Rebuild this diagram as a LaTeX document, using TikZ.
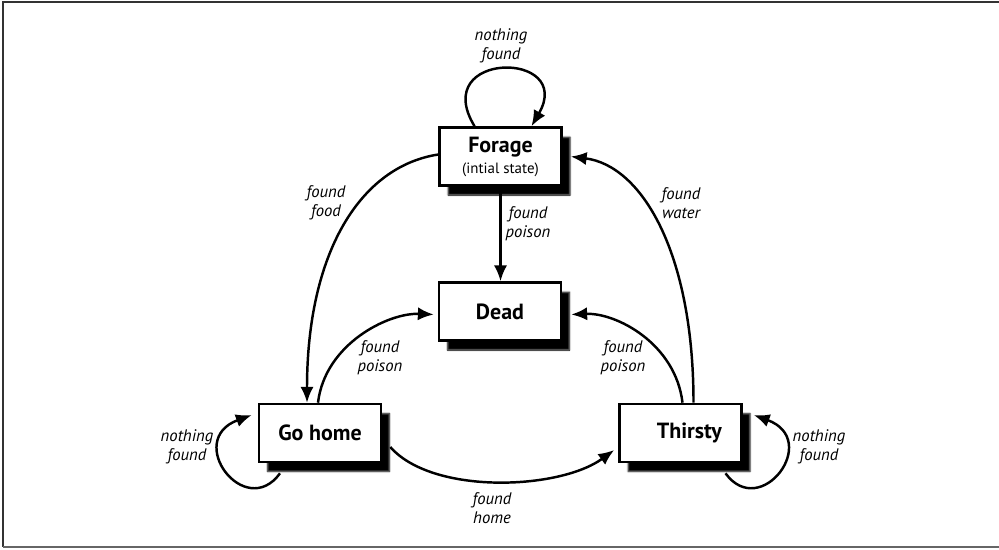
\documentclass[tikz,border=0pt]{standalone}
\usepackage{fontspec}
\setmainfont{PT Sans}
\usetikzlibrary{arrows.meta,shadows,shadows.blur,calc}
\begin{document}
\begin{tikzpicture}[x=0.02cm,y=-0.02cm,
  state/.style={draw=black, line width=1.5pt, fill=white,
    minimum width=2.44cm, minimum height=1.16cm, inner sep=0pt,
    font=\bfseries\fontsize{12.5}{14}\selectfont, align=center,
    blur shadow={shadow xshift=0.17cm, shadow yshift=-0.19cm,
      shadow blur radius=0.03cm, shadow opacity=100}},
  trans/.style={line width=1.4pt, -{Latex[length=9pt,width=7.5pt]}},
  lbl/.style={font=\itshape\fontsize{9.5}{11}\selectfont, align=center, inner sep=0pt}
]
\useasboundingbox (0,0) rectangle (999,549);

% frame
\draw[line width=1.2pt, black!80] (999,2) -- (3,2) -- (3,547);
\draw[line width=1.2pt, black!60] (3,547) -- (999,547);

% states
\node[state] (forage) at (500.5,156.5)
  {Forage\\[-2pt]{\mdseries\fontsize{8.5}{10}\selectfont (intial state)}};
\node[state] (dead) at (500,311.5) {Dead};
\node[state] (gohome) at (320,433) {Go home};
\node[state] (thirsty) at (680.5,433) {\hspace*{10pt}Thirsty};

% transitions
\draw[trans] ($(forage.north)+(-26,0)$) .. controls +(-46,-76) and +(44,-76) .. ($(forage.north)+(31,0)$);
\draw[trans] ($(forage.west)+(0,-2)$) .. controls +(-78,12) and +(0,-150) .. ($(gohome.north)+(-13,0)$);
\draw[trans] (forage.south) -- (forage.south |- dead.north);
\draw[trans] ($(gohome.north)+(-2,0)$) .. controls +(7,-59) and +(-45,-2) .. ($(dead.west)+(-4,3)$);
\draw[trans] ($(thirsty.north)+(2,0)$) .. controls +(-7,-59) and +(45,-2) .. ($(dead.east)+(9,3)$);
\draw[trans] ($(thirsty.north)+(13,0)$) .. controls +(0,-150) and +(71,9) .. ($(forage.east)+(8,0)$);
\draw[trans] ($(gohome.east)+(8,14)$) .. controls +(42,48) and +(-55,40) .. ($(thirsty.west)+(-4,17)$);
\draw[trans] ($(gohome.south)+(-40,10)$) .. controls +(-35,48) and +(-68,25) .. ($(gohome.west)+(-6,-18)$);
\draw[trans] ($(thirsty.south)+(45,10)$) .. controls +(35,48) and +(68,25) .. ($(thirsty.east)+(11,-18)$);

% labels
\node[lbl] (lnf1) at (501,46) {nothing\\found};
\node[lbl] (lfood) at (326,203) {found\\food};
\node[lbl] (lwater) at (681,203) {found\\water};
\node[lbl] (lpois1) at (528,224) {found\\poison};
\node[lbl] (lpois2) at (380,358) {found\\poison};
\node[lbl] (lpois3) at (623,358) {found\\poison};
\node[lbl] (lnf2) at (187,447) {nothing\\found};
\node[lbl] (lnf3) at (819,447) {nothing\\found};
\node[lbl] (lhome) at (492,508) {found\\home};
\end{tikzpicture}
\end{document}
